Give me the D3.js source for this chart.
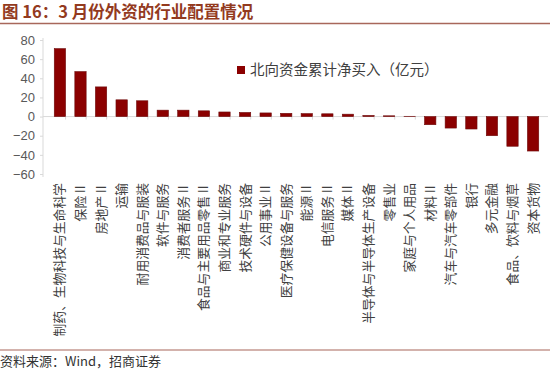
<!DOCTYPE html>
<html>
<head>
<meta charset="utf-8">
<script src="https://cdn.jsdelivr.net/npm/d3@7"></script>
<style>
  body { margin: 0; background: #fff; }
  svg { display: block; font-family: "Noto Sans CJK SC", "Noto Sans", sans-serif; }
</style>
</head>
<body>
<div id="chart"></div>
<script>
const w = 550;
const h = 371;

// categorias y valores (亿元)
const categories = [
  "制药、生物科技与生命科学", "保险Ⅱ", "房地产Ⅱ", "运输", "耐用消费品与服装",
  "软件与服务", "消费者服务Ⅱ", "食品与主要用品零售Ⅱ", "商业和专业服务", "技术硬件与设备",
  "公用事业Ⅱ", "医疗保健设备与服务", "能源Ⅱ", "电信服务Ⅱ", "媒体Ⅱ",
  "半导体与半导体生产设备", "零售业", "家庭与个人用品", "材料Ⅱ", "汽车与汽车零部件",
  "银行", "多元金融", "食品、饮料与烟草", "资本货物"
];
const values = [
  71, 47, 31, 17.5, 16.5,
  6.7, 6.7, 6, 4.8, 4.3,
  3.8, 3.4, 3.1, 2.9, 2.5,
  1.2, 0.8, 0.3, -8.5, -12,
  -13, -20, -31, -36
];
const yTicks = [80, 60, 40, 20, 0, -20, -40, -60];
const seriesName = "北向资金累计净买入（亿元）";

const data = categories.map((c, i) => ({ name: c, value: values[i] }));

const svg = d3.select("#chart").append("svg").attr("width", w).attr("height", h);

// Titulo
svg.append("text")
  .attr("x", 2).attr("y", 18)
  .attr("fill", "#933a1e")
  .attr("font-size", 16.5).attr("font-weight", "bold")
  .text("图 16：3 月份外资的行业配置情况");
svg.append("line")
  .attr("x1", 0).attr("x2", w).attr("y1", 23.5).attr("y2", 23.5)
  .attr("stroke", "#a8675b").attr("stroke-width", 1.5);

// Escalas
const xScale = d3.scaleBand().domain(categories).range([45, 548]).padding(0.45);
const yScale = d3.scaleLinear().domain([-60, 80]).range([174, 40]);

// Eje Y
const yAxis = d3.axisLeft(yScale).tickValues(yTicks).tickSize(3).tickPadding(5);
const gy = svg.append("g").attr("transform", "translate(43,0)").call(yAxis);
gy.select(".domain").attr("stroke", "#d9d9d9").attr("d", "M0,38V177");
gy.selectAll(".tick line").attr("stroke", "#d9d9d9");
gy.selectAll(".tick text").attr("fill", "#595959").attr("font-size", 13)
  .attr("font-family", "Liberation Sans, Arial, sans-serif");

// Eje cero
const y0 = yScale(0);
svg.append("line")
  .attr("x1", 43).attr("x2", 548).attr("y1", y0).attr("y2", y0)
  .attr("stroke", "#d9d9d9");
svg.selectAll(".xtick")
  .data(categories.slice(1))
  .enter()
  .append("line")
  .attr("x1", (d) => xScale(d) - xScale.step() * xScale.paddingOuter())
  .attr("x2", (d) => xScale(d) - xScale.step() * xScale.paddingOuter())
  .attr("y1", y0).attr("y2", y0 + 3)
  .attr("stroke", "#d9d9d9");

// Barras
svg.selectAll("rect.bar")
  .data(data)
  .enter()
  .append("rect")
  .attr("class", "bar")
  .attr("x", (d) => xScale(d.name))
  .attr("y", (d) => yScale(Math.max(0, d.value)))
  .attr("width", xScale.bandwidth())
  .attr("height", (d) => Math.abs(yScale(d.value) - yScale(0)))
  .attr("fill", "#8b0000")
  .attr("stroke", "#6e0b0b")
  .attr("stroke-width", 0.6);

// Etiquetas de categoria
svg.selectAll("text.cat")
  .data(categories)
  .enter()
  .append("text")
  .attr("class", "cat")
  .attr("transform", (d) => `translate(${xScale(d) + xScale.bandwidth() / 2},183) rotate(-90)`)
  .attr("text-anchor", "end")
  .attr("dy", "0.35em")
  .attr("fill", "#404040")
  .attr("font-size", 12.8)
  .text((d) => d);

// Leyenda
svg.append("rect")
  .attr("x", 237).attr("y", 66).attr("width", 8).attr("height", 8)
  .attr("fill", "#8b0000");
svg.append("text")
  .attr("x", 250).attr("y", 70).attr("dy", "0.35em")
  .attr("fill", "#404040").attr("font-size", 14.5)
  .text(seriesName);

// Fuente
svg.append("line")
  .attr("x1", 0).attr("x2", w).attr("y1", 350).attr("y2", 350)
  .attr("stroke", "#a8675b").attr("stroke-width", 1.2);
svg.append("text")
  .attr("x", 0).attr("y", 361).attr("dy", "0.35em")
  .attr("fill", "#333").attr("font-size", 13)
  .text("资料来源：Wind，招商证券");
</script>
</body>
</html>
